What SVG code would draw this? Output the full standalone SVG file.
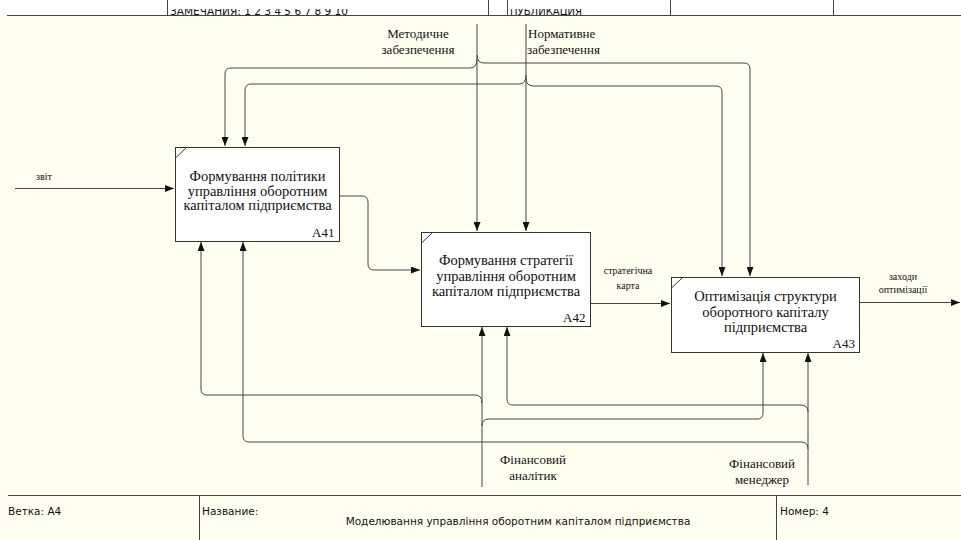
<svg xmlns="http://www.w3.org/2000/svg" width="961" height="540" viewBox="0 0 961 540">
<defs>
<marker id="arr" markerWidth="9" markerHeight="7" refX="9" refY="3.5" orient="auto" markerUnits="userSpaceOnUse">
<path d="M0,0 L9,3.5 L0,7 z" fill="#111"/>
</marker>
<clipPath id="hclip"><rect x="0" y="9" width="961" height="6"/></clipPath>
<style>
.box{fill:#ffffff;stroke:#333;stroke-width:1}
.tick{stroke:#333;stroke-width:1}
.lbl{font-family:'Liberation Serif','DejaVu Serif',serif;font-size:14.5px;fill:#111;text-anchor:middle}
.id{font-family:'Liberation Serif','DejaVu Serif',serif;font-size:13px;fill:#111;text-anchor:end}
.arrl{font-family:'Liberation Serif','DejaVu Serif',serif;font-size:13px;fill:#111}
.sm{font-family:'Liberation Serif','DejaVu Serif',serif;font-size:10px;fill:#111;text-anchor:middle}
.con{fill:none;stroke:#444;stroke-width:1}
.frame{stroke:#444;stroke-width:1;fill:none}
.ft{font-family:'DejaVu Sans','Liberation Sans',sans-serif;font-size:10.5px;fill:#111}
</style>
</defs>
<rect x="0" y="0" width="961" height="540" fill="#fffff0"/>
<rect x="0" y="0" width="961" height="15" fill="#ffffff"/>
<g id="header">
<line class="frame" x1="7" y1="15.5" x2="961" y2="15.5"/>
<line class="frame" x1="167.5" y1="0" x2="167.5" y2="15"/>
<line class="frame" x1="488.5" y1="0" x2="488.5" y2="15"/>
<line class="frame" x1="507.5" y1="0" x2="507.5" y2="15"/>
<line class="frame" x1="670.5" y1="0" x2="670.5" y2="15"/>
<line class="frame" x1="833.5" y1="0" x2="833.5" y2="15"/>
<g clip-path="url(#hclip)">
<text class="ft" x="170" y="14.5" textLength="178" lengthAdjust="spacingAndGlyphs">ЗАМЕЧАНИЯ: 1 2 3 4 5 6 7 8 9 10</text>
<text class="ft" x="510" y="14.5" textLength="72" lengthAdjust="spacingAndGlyphs">ПУБЛИКАЦИЯ</text>
</g>
</g>
<g id="connectors">
<path class="con" d="M477,24 V231" marker-end="url(#arr)"/>
<path class="con" d="M477,59 Q477,68 470,68 H231 Q225,68 225,74 V146" marker-end="url(#arr)"/>
<path class="con" d="M477,55 Q477,63 484,63 H744 Q750,63 750,69 V276" marker-end="url(#arr)"/>
<path class="con" d="M526,24 V231" marker-end="url(#arr)"/>
<path class="con" d="M526,75 Q526,84 519,84 H251 Q245,84 245,90 V146" marker-end="url(#arr)"/>
<path class="con" d="M526,78 Q526,86 533,86 H716 Q722,86 722,92 V276" marker-end="url(#arr)"/>
<path class="con" d="M15,188.5 H174" marker-end="url(#arr)"/>
<path class="con" d="M340,196 H362 Q368,196 368,202 V264 Q368,270 374,270 H420" marker-end="url(#arr)"/>
<path class="con" d="M591,303.5 H670" marker-end="url(#arr)"/>
<path class="con" d="M860,302.5 H960" marker-end="url(#arr)"/>
<path class="con" d="M482,487 V327" marker-end="url(#arr)"/>
<path class="con" d="M482,403 Q482,395 475,395 H207 Q201,395 201,389 V242" marker-end="url(#arr)"/>
<path class="con" d="M482,426 Q482,419 489,419 H757 Q763,419 763,413 V353" marker-end="url(#arr)"/>
<path class="con" d="M808,485 V353" marker-end="url(#arr)"/>
<path class="con" d="M808,412 Q808,405 801,405 H513 Q507,405 507,399 V327" marker-end="url(#arr)"/>
<path class="con" d="M808,449 Q808,442 801,442 H249 Q243,442 243,436 V242" marker-end="url(#arr)"/>
</g>
<g id="A41">
<rect class="box" x="175.5" y="147.5" width="164" height="94"/>
<line class="tick" x1="175.5" y1="158" x2="186.5" y2="147.5"/>
<text class="lbl" x="257.5" y="181">Формування політики</text>
<text class="lbl" x="257.5" y="195.5">управління оборотним</text>
<text class="lbl" x="257.5" y="210">капіталом підприємства</text>
<text class="id" x="334.5" y="237">A41</text>
</g>
<g id="A42">
<rect class="box" x="421.5" y="232.5" width="169" height="94"/>
<line class="tick" x1="421.5" y1="243" x2="432.5" y2="232.5"/>
<text class="lbl" x="506" y="264.5">Формування стратегії</text>
<text class="lbl" x="506" y="281">управління оборотним</text>
<text class="lbl" x="506" y="296">капіталом підприємства</text>
<text class="id" x="585.5" y="322">A42</text>
</g>
<g id="A43">
<rect class="box" x="671.5" y="277.5" width="188" height="75"/>
<line class="tick" x1="671.5" y1="288" x2="682.5" y2="277.5"/>
<text class="lbl" x="765.5" y="301">Оптимізація структури</text>
<text class="lbl" x="765.5" y="317">оборотного капіталу</text>
<text class="lbl" x="765.5" y="332">підприємства</text>
<text class="id" x="855" y="348">A43</text>
</g>
<g id="labels">
<text class="arrl" x="418" y="38" text-anchor="middle">Методичне</text>
<text class="arrl" x="418" y="54" text-anchor="middle">забезпечення</text>
<text class="arrl" x="528" y="38">Нормативне</text>
<text class="arrl" x="527" y="54">забезпечення</text>
<text class="sm" x="44" y="180">звіт</text>
<text class="sm" x="628" y="274">стратегічна</text>
<text class="sm" x="628" y="289">карта</text>
<text class="sm" x="903" y="280">заходи</text>
<text class="sm" x="903" y="293">оптимізації</text>
<text class="arrl" x="533" y="464" text-anchor="middle">Фінансовий</text>
<text class="arrl" x="533" y="480" text-anchor="middle">аналітик</text>
<text class="arrl" x="762" y="468" text-anchor="middle">Фінансовий</text>
<text class="arrl" x="762" y="484" text-anchor="middle">менеджер</text>
</g>
<g id="footer">
<line class="frame" x1="8" y1="495.5" x2="961" y2="495.5"/>
<line class="frame" x1="199.5" y1="495" x2="199.5" y2="540"/>
<line class="frame" x1="776.5" y1="495" x2="776.5" y2="540"/>
<text class="ft" x="8" y="515">Ветка: A4</text>
<text class="ft" x="202" y="515">Название:</text>
<text class="ft" x="518" y="525" text-anchor="middle">Моделювання управління оборотним капіталом підприємства</text>
<text class="ft" x="780" y="515">Номер: 4</text>
</g>
</svg>
